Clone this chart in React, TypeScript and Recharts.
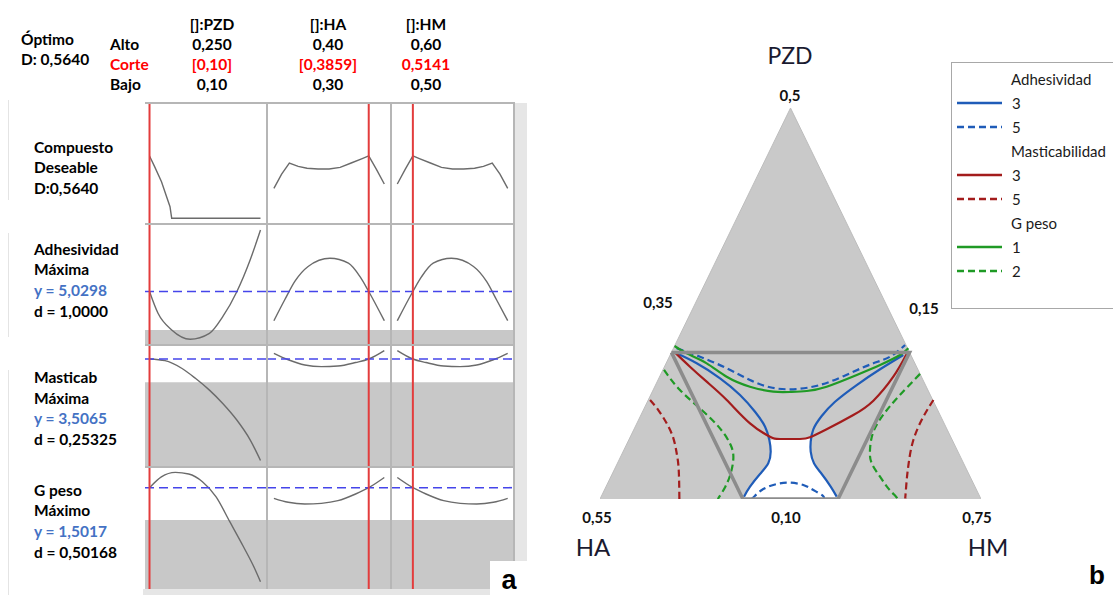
import React from 'react'
import {
  LineChart,
  Line,
  XAxis,
  YAxis,
  ReferenceLine,
  ReferenceArea,
  ComposedChart,
  Area,
  Legend,
} from 'recharts'

// ─── Panel a: optimisation plot data ──────────────────────────────────────────

const factorNames   = ['[]:PZD', '[]:HA', '[]:HM']
const highLabels    = ['0,250', '0,40', '0,60']
const cutLabels     = ['[0,10]', '[0,3859]', '0,5141']
const lowLabels     = ['0,10', '0,30', '0,50']
const factorSetting = [0.10, 0.3859, 0.5141]

const responseLabels = [
  ['Compuesto', 'Deseable', 'D:0,5640'],
  ['Adhesividad', 'Máxima', 'y = 5,0298', 'd = 1,0000'],
  ['Masticab', 'Máxima', 'y = 3,5065', 'd = 0,25325'],
  ['G peso', 'Máximo', 'y = 1,5017', 'd = 0,50168'],
]
const responsePredicted = [null, 5.0298, 3.5065, 1.5017]
const responseLower     = [null, 3, 3, 1]

// [factor level, response]
const desirPzd = [[0.10, 0.564], [0.1069, 0.467], [0.1162, 0.331], [0.1231, 0.195], [0.1277, 0.105], [0.13, 0], [0.25, 0]]
const desirHa  = [[0.30, 0.27], [0.307, 0.40], [0.314, 0.50], [0.322, 0.47], [0.33, 0.452], [0.34, 0.446], [0.35, 0.446], [0.36, 0.46], [0.37, 0.50], [0.38, 0.54], [0.3859, 0.564], [0.393, 0.44], [0.40, 0.31]]
const desirHm  = [[0.50, 0.31], [0.507, 0.44], [0.5141, 0.564], [0.52, 0.54], [0.53, 0.50], [0.54, 0.46], [0.55, 0.446], [0.56, 0.446], [0.57, 0.452], [0.578, 0.47], [0.586, 0.50], [0.593, 0.40], [0.60, 0.27]]

const adhPzd = [[0.10, 5.03], [0.1115, 3.88], [0.13, 3.0], [0.155, 2.51], [0.181, 2.82], [0.199, 3.70], [0.218, 5.02], [0.236, 6.69], [0.25, 8.27]]
const adhHa  = [[0.30, 3.49], [0.3097, 4.58], [0.3188, 5.55], [0.331, 6.35], [0.3508, 6.78], [0.3675, 6.52], [0.378, 5.81], [0.3859, 5.03], [0.40, 3.49]]
const adhHm  = [[0.50, 3.49], [0.5141, 5.03], [0.522, 5.81], [0.5325, 6.52], [0.549, 6.78], [0.569, 6.35], [0.581, 5.55], [0.590, 4.58], [0.60, 3.49]]

const masPzd = [[0.10, 3.5065], [0.121, 3.47], [0.144, 3.30], [0.162, 3.087], [0.181, 2.83], [0.199, 2.54], [0.218, 2.18], [0.236, 1.75], [0.25, 1.30]]
const masHa  = [[0.30, 3.63], [0.313, 3.49], [0.328, 3.376], [0.343, 3.34], [0.358, 3.354], [0.374, 3.43], [0.3859, 3.5065], [0.40, 3.69]]
const masHm  = [[0.50, 3.69], [0.5141, 3.5065], [0.526, 3.43], [0.542, 3.354], [0.557, 3.34], [0.572, 3.376], [0.587, 3.49], [0.60, 3.63]]

const gpPzd = [[0.10, 1.5017], [0.116, 1.67], [0.135, 1.74], [0.153, 1.714], [0.1715, 1.595], [0.19, 1.36], [0.2085, 0.974], [0.227, 0.585], [0.241, 0.275], [0.25, 0.042]]
const gpHa  = [[0.30, 1.337], [0.313, 1.275], [0.328, 1.248], [0.343, 1.259], [0.358, 1.30], [0.374, 1.404], [0.3859, 1.5017], [0.40, 1.66]]
const gpHm  = [[0.50, 1.66], [0.5141, 1.5017], [0.526, 1.404], [0.542, 1.30], [0.557, 1.259], [0.572, 1.248], [0.587, 1.275], [0.60, 1.337]]

const profiles = [
  [desirPzd, desirHa, desirHm],
  [adhPzd, adhHa, adhHm],
  [masPzd, masHa, masHm],
  [gpPzd, gpHa, gpHm],
]

// ─── Panel b: mixture contour data, points are [PZD, HM] ──────────────────────

const simplexVertices = [[0.10, 0.35], [0.50, 0.35], [0.10, 0.75]]
const feasibleRegion  = [[0.25, 0.35], [0.25, 0.60], [0.10, 0.60], [0.10, 0.50], [0.25, 0.35]]

const adh3Left  = [[0.249, 0.356], [0.2388, 0.3821], [0.2235, 0.4143], [0.2064, 0.4438], [0.1893, 0.4681], [0.174, 0.4863], [0.1604, 0.4976], [0.1484, 0.505], [0.1365, 0.5084], [0.1256, 0.5052], [0.1126, 0.5012], [0.1024, 0.50]]
const adh3Right = [[0.2473, 0.5948], [0.2327, 0.5777], [0.2166, 0.5612], [0.1995, 0.547], [0.1849, 0.5403], [0.1713, 0.5383], [0.1586, 0.5419], [0.1484, 0.547], [0.1365, 0.5564], [0.1256, 0.57], [0.1126, 0.5859], [0.1024, 0.5973]]
const adh5Upper = [[0.2542, 0.3534], [0.2456, 0.3822], [0.2337, 0.4162], [0.2217, 0.4466], [0.2143, 0.4714], [0.2122, 0.4934], [0.2143, 0.5134], [0.22, 0.5315], [0.2302, 0.5509], [0.2388, 0.5676], [0.2456, 0.5817], [0.2575, 0.5915]]
const adh5Lower = [[0.10, 0.509], [0.1034, 0.5111], [0.1102, 0.5164], [0.1153, 0.5278], [0.1167, 0.5412], [0.1143, 0.5563], [0.1092, 0.5694], [0.1034, 0.5821], [0.10, 0.585]]
const mas3      = [[0.2497, 0.354], [0.2353, 0.3768], [0.22, 0.402], [0.2013, 0.4324], [0.1774, 0.4688], [0.1637, 0.4966], [0.1614, 0.5083], [0.1614, 0.5293], [0.1631, 0.5389], [0.1713, 0.5523], [0.1859, 0.573], [0.2006, 0.5867], [0.2251, 0.5954], [0.2483, 0.5978]]
const mas5Left  = [[0.2013, 0.3519], [0.191, 0.3657], [0.1774, 0.3813], [0.1621, 0.396], [0.1468, 0.4071], [0.1297, 0.4178], [0.1024, 0.4321], [0.10, 0.4333]]
const mas5Right = [[0.2013, 0.6494], [0.1842, 0.6474], [0.1604, 0.6488], [0.1365, 0.6558], [0.1194, 0.6623], [0.1024, 0.6694], [0.10, 0.6702]]
const gp1       = [[0.2565, 0.35], [0.249, 0.3665], [0.2388, 0.3926], [0.2251, 0.4204], [0.2149, 0.45], [0.2098, 0.4771], [0.2095, 0.4948], [0.2105, 0.5118], [0.2149, 0.5305], [0.2269, 0.5561], [0.2371, 0.5755], [0.2473, 0.5913], [0.2542, 0.5966]]
const gp2Left   = [[0.232, 0.3512], [0.2115, 0.3782], [0.191, 0.4113], [0.1723, 0.4398], [0.1552, 0.4596], [0.1416, 0.4692], [0.1263, 0.4741], [0.1126, 0.4753], [0.1024, 0.4741], [0.10, 0.474]]
const gp2Right  = [[0.228, 0.622], [0.2047, 0.6109], [0.1877, 0.6047], [0.1689, 0.6026], [0.1501, 0.6084], [0.1365, 0.617], [0.1228, 0.6326], [0.1109, 0.6472], [0.1024, 0.6596], [0.10, 0.662]]

const legendGroups = [
  { title: 'Adhesividad',    levels: ['3', '5'] },
  { title: 'Masticabilidad', levels: ['3', '5'] },
  { title: 'G peso',         levels: ['1', '2'] },
]

// ─── Styles ───────────────────────────────────────────────────────────────────

const BLUE  = '#1F5CB8'
const RED   = '#A31C1C'
const GREEN = '#1F9A25'
const GROUP_COLORS = [BLUE, RED, GREEN]
const DASH = '7 4'

const GRID_COLOR  = '#B6B6B6'
const BAND_COLOR  = '#C8C8C8'
const CURVE_COLOR = '#6B6B6B'
const SET_COLOR   = '#E33C3C'
const PRED_COLOR  = '#4545EA'
const TEXT_BLUE   = '#4472C4'

const COLS = [
  { left: 145, width: 122, domain: [0.0939, 0.2588] },
  { left: 267, width: 124, domain: [0.29375, 0.40607] },
  { left: 391, width: 123, domain: [0.49429, 0.60571] },
]
const ROWS = [
  { top: 103, height: 121, domain: [-0.052, 1.043], labelTop: 136.5 },
  { top: 224, height: 121, domain: [2.209, 8.588],  labelTop: 238.5 },
  { top: 345, height: 122, domain: [1.159, 3.811],  labelTop: 367 },
  { top: 467, height: 122, domain: [-0.071, 1.823], labelTop: 479.5 },
]

const toXY = (pts: number[][]) => pts.map(([x, y]) => ({ x, y }))
// ternary: HA at bottom-left, HM at bottom-right, PZD on top
const toTernary = (pts: number[][]) =>
  pts.map(([pzd, hm]) => ({ x: (hm - 0.35 + 0.5 * (pzd - 0.10)) / 0.40, y: pzd }))

const whiteRegion = [
  [0.10, 0.4995],
  ...adh3Left.filter((p) => p[0] < 0.162).reverse(),
  ...mas3.filter((p) => p[0] < 0.1635),
  ...adh3Right.filter((p) => p[0] < 0.162),
  [0.10, 0.598],
]

const contours = [
  { key: 'adh3l', pts: adh3Left,  color: BLUE,  dashed: false },
  { key: 'adh3r', pts: adh3Right, color: BLUE,  dashed: false },
  { key: 'adh5u', pts: adh5Upper, color: BLUE,  dashed: true },
  { key: 'adh5l', pts: adh5Lower, color: BLUE,  dashed: true },
  { key: 'mas5l', pts: mas5Left,  color: RED,   dashed: true },
  { key: 'mas5r', pts: mas5Right, color: RED,   dashed: true },
  { key: 'gp2l',  pts: gp2Left,   color: GREEN, dashed: true },
  { key: 'gp2r',  pts: gp2Right,  color: GREEN, dashed: true },
  { key: 'gp1',   pts: gp1,       color: GREEN, dashed: false },
  { key: 'mas3',  pts: mas3,      color: RED,   dashed: false },
]

// ─── Small helpers ────────────────────────────────────────────────────────────

function Txt({ x, y, children, center = false, style }: any) {
  return (
    <div
      style={{
        position: 'absolute',
        left: x,
        top: y,
        transform: center ? 'translate(-50%, -50%)' : 'translateY(-50%)',
        whiteSpace: 'nowrap',
        lineHeight: 1,
        ...style,
      }}
    >
      {children}
    </div>
  )
}

function Rule({ x, y, w, h, color = GRID_COLOR }: any) {
  return <div style={{ position: 'absolute', left: x, top: y, width: w, height: h, background: color }} />
}

function ProfileCell({ row, col }: { row: number; col: number }) {
  const r = ROWS[row]
  const c = COLS[col]
  const lower = responseLower[row]
  const pred = responsePredicted[row]
  return (
    <div style={{ position: 'absolute', left: c.left, top: r.top }}>
      <LineChart width={c.width} height={r.height} data={toXY(profiles[row][col])} margin={{ top: 0, right: 0, bottom: 0, left: 0 }}>
        <XAxis dataKey="x" type="number" domain={c.domain} hide allowDataOverflow />
        <YAxis type="number" domain={r.domain} hide allowDataOverflow />
        {lower != null && (
          <ReferenceArea y1={r.domain[0]} y2={lower} fill={BAND_COLOR} fillOpacity={1} stroke="none" ifOverflow="visible" />
        )}
        <Line
          type={row === 0 ? 'linear' : 'monotone'}
          dataKey="y"
          stroke={CURVE_COLOR}
          strokeWidth={1.4}
          dot={false}
          activeDot={false}
          isAnimationActive={false}
        />
        {pred != null && <ReferenceLine y={pred} stroke={PRED_COLOR} strokeWidth={1.6} strokeDasharray="9 5" />}
        <ReferenceLine x={factorSetting[col]} stroke={SET_COLOR} strokeWidth={2} />
      </LineChart>
    </div>
  )
}

const renderLegend = () => (
  <div
    style={{
      width: 200,
      height: 247,
      boxSizing: 'border-box',
      border: '1px solid #A8A8A8',
      background: '#fff',
      paddingTop: 4,
      fontFamily: 'Lato, sans-serif',
      fontSize: 15,
      color: '#1B1B1B',
    }}
  >
    {legendGroups.map((g, gi) => (
      <React.Fragment key={g.title}>
        <div style={{ height: 24, lineHeight: '24px', paddingLeft: 59 }}>{g.title}</div>
        {g.levels.map((lv, i) => (
          <div key={lv} style={{ height: 24, display: 'flex', alignItems: 'center' }}>
            <svg width={60} height={24} style={{ flex: 'none' }}>
              <line x1={5} x2={50} y1={12} y2={12} stroke={GROUP_COLORS[gi]} strokeWidth={2.4} strokeDasharray={i ? DASH : undefined} />
            </svg>
            <span>{lv}</span>
          </div>
        ))}
      </React.Fragment>
    ))}
  </div>
)

// ─── Panels ───────────────────────────────────────────────────────────────────

function PanelA() {
  const bold: React.CSSProperties = { fontWeight: 700, fontSize: 15.5 }
  return (
    <>
      <Txt x={21} y={39.5} style={bold}>Óptimo</Txt>
      <Txt x={21} y={60} style={bold}>D: 0,5640</Txt>
      <Txt x={110} y={45} style={bold}>Alto</Txt>
      <Txt x={110} y={65} style={{ ...bold, color: '#FF0000' }}>Corte</Txt>
      <Txt x={110} y={85} style={bold}>Bajo</Txt>
      {factorNames.map((f, i) => {
        const cx = [212, 328, 426][i]
        return (
          <React.Fragment key={f}>
            <Txt x={cx} y={25} center style={bold}>{f}</Txt>
            <Txt x={cx} y={45} center style={bold}>{highLabels[i]}</Txt>
            <Txt x={cx} y={65} center style={{ ...bold, color: '#FF0000' }}>{cutLabels[i]}</Txt>
            <Txt x={cx} y={85} center style={bold}>{lowLabels[i]}</Txt>
          </React.Fragment>
        )
      })}

      {responseLabels.map((lines, ri) => (
        <div key={ri} style={{ position: 'absolute', left: 34, top: ROWS[ri].labelTop, ...bold, lineHeight: '20.7px' }}>
          {lines.map((l) => (
            <div key={l} style={{ color: l.startsWith('y =') ? TEXT_BLUE : '#000', whiteSpace: 'nowrap' }}>{l}</div>
          ))}
        </div>
      ))}

      {/* faint frame of the text boxes */}
      <Rule x={8} y={100} w={1} h={100} color="#E4E4E4" />
      <Rule x={8} y={233} w={1} h={104} color="#E4E4E4" />
      <Rule x={8} y={370} w={1} h={225} color="#E4E4E4" />

      {ROWS.map((_, ri) => COLS.map((__, ci) => <ProfileCell key={`${ri}-${ci}`} row={ri} col={ci} />))}

      {/* outer frame and cell grid */}
      <Rule x={514} y={103} w={13} h={492} color="#E6E6E6" />
      <Rule x={143} y={589} w={384} h={6} color="#E6E6E6" />
      <Rule x={145} y={102} w={370} h={2} />
      <Rule x={513} y={102} w={2} h={487} />
      <Rule x={266} y={102} w={2} h={487} />
      <Rule x={390} y={102} w={2} h={487} />
      <Rule x={145} y={223} w={369} h={2} />
      <Rule x={145} y={344} w={369} h={2} />
      <Rule x={145} y={466} w={369} h={2} />

      <div style={{ position: 'absolute', left: 490, top: 561, width: 40, height: 34, background: '#fff' }} />
      <Txt x={509} y={580} center style={{ fontFamily: '"Liberation Sans", Arial, sans-serif', fontWeight: 700, fontSize: 27 }}>a</Txt>
    </>
  )
}

function PanelB() {
  const num: React.CSSProperties = { fontWeight: 700, fontSize: 15, color: '#111' }
  const big: React.CSSProperties = { fontSize: 24, color: '#1A1A30' }
  return (
    <>
      <div style={{ position: 'absolute', left: 560, top: 0 }}>
        <ComposedChart width={553} height={595} margin={{ top: 108, right: 132, bottom: 96, left: 40 }}>
          <XAxis dataKey="x" type="number" domain={[0, 1]} hide allowDataOverflow />
          <YAxis dataKey="y" type="number" domain={[0.1, 0.5]} hide allowDataOverflow />
          <Area
            data={toTernary(simplexVertices)}
            dataKey="y"
            type="linear"
            baseValue={0.1}
            fill="#C9C9C9"
            fillOpacity={1}
            stroke="#BDBDBD"
            strokeWidth={1}
            legendType="none"
            isAnimationActive={false}
          />
          <Area
            data={toTernary(whiteRegion)}
            dataKey="y"
            type="linear"
            baseValue={0.1}
            fill="#FFFFFF"
            fillOpacity={1}
            stroke="none"
            legendType="none"
            isAnimationActive={false}
          />
          {contours.map((c) => (
            <Line
              key={c.key}
              data={toTernary(c.pts)}
              dataKey="y"
              type="natural"
              stroke={c.color}
              strokeWidth={2.2}
              strokeDasharray={c.dashed ? DASH : undefined}
              dot={false}
              activeDot={false}
              isAnimationActive={false}
            />
          ))}
          <Line
            data={toTernary(feasibleRegion)}
            dataKey="y"
            type="linear"
            stroke="#8C8C8C"
            strokeWidth={3.5}
            dot={false}
            activeDot={false}
            isAnimationActive={false}
          />
          <Legend
            layout="vertical"
            align="center"
            verticalAlign="middle"
            content={renderLegend}
            wrapperStyle={{ left: 391, top: 62, width: 200, height: 247 }}
          />
        </ComposedChart>
      </div>

      <Txt x={790} y={55} center style={{ ...big, fontSize: 23 }}>PZD</Txt>
      <Txt x={790} y={95} center style={num}>0,5</Txt>
      <Txt x={658} y={302} center style={num}>0,35</Txt>
      <Txt x={924} y={308} center style={num}>0,15</Txt>
      <Txt x={597} y={517} center style={num}>0,55</Txt>
      <Txt x={786} y={517} center style={num}>0,10</Txt>
      <Txt x={977} y={517} center style={num}>0,75</Txt>
      <Txt x={593} y={547} center style={big}>HA</Txt>
      <Txt x={988} y={547} center style={big}>HM</Txt>
      <Txt x={1089} y={575} style={{ fontFamily: '"Liberation Sans", Arial, sans-serif', fontWeight: 700, fontSize: 26 }}>b</Txt>
    </>
  )
}

export default function App() {
  return (
    <div
      style={{
        position: 'fixed',
        left: 0,
        top: 0,
        width: 1113,
        height: 595,
        overflow: 'hidden',
        background: '#fff',
        fontFamily: 'Lato, sans-serif',
        color: '#000',
      }}
    >
      <PanelA />
      <PanelB />
    </div>
  )
}
